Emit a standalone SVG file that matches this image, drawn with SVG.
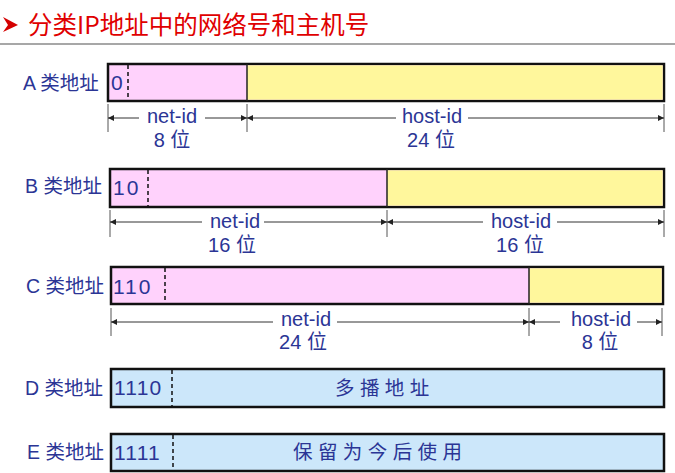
<svg xmlns="http://www.w3.org/2000/svg" width="675" height="473" viewBox="0 0 675 473">
<defs>
<style>
.t{font-family:"Liberation Sans","Noto Sans CJK SC",sans-serif;fill:#2B3595;font-size:19.5px}
.d{font-family:"Liberation Sans","Noto Sans CJK SC",sans-serif;fill:#2B3595;font-size:20px;text-anchor:middle}
.bits{font-family:"Liberation Sans",sans-serif;fill:#2B3595;font-size:21px;letter-spacing:2px}
.box{stroke:#111;stroke-width:2.5}
.div{stroke:#222;stroke-width:1.5}
.dash{stroke:#111;stroke-width:1.5;stroke-dasharray:4 3}
.tick{stroke:#555;stroke-width:1}
.dim{stroke:#333;stroke-width:1;fill:none;marker-end:url(#ah)}
.pink{fill:#FFD2FC}
.yel{fill:#FFF79C}
.blue{fill:#CCE7FA}
</style>
<marker id="ah" viewBox="0 0 6 6" refX="6" refY="3" markerWidth="6" markerHeight="6" markerUnits="userSpaceOnUse" orient="auto">
<path d="M0,0 L6,3 L0,6 z" fill="#222"/>
</marker>
</defs>
<rect width="675" height="473" fill="#fff"/>
<g id="title">
<polygon points="3,17 18,25 3,32 8,25" fill="#D40000"/>
<text x="28" y="34" style="font-family:'Noto Sans CJK SC','Noto Sans',sans-serif;font-size:24.5px;fill:#E00000">分类IP地址中的网络号和主机号</text>
<line x1="0" y1="44" x2="675" y2="44" stroke="#8a8a8a" stroke-width="1.5"/>
</g>
<g id="classA">
<text class="t" x="23" y="90">A 类地址</text>
<rect class="box pink" x="108" y="64" width="556" height="37"/>
<rect class="yel" x="247" y="65.3" width="415.7" height="34.4"/>
<line class="div" x1="247" y1="64" x2="247" y2="101"/>
<line class="dash" x1="128" y1="65" x2="128" y2="100"/>
<text class="bits" x="111" y="90">0</text>
</g>
<g id="classB">
<text class="t" x="25" y="193">B 类地址</text>
<rect class="box pink" x="110" y="169" width="554" height="38"/>
<rect class="yel" x="387" y="170.3" width="275.7" height="35.4"/>
<line class="div" x1="387" y1="169" x2="387" y2="207"/>
<line class="dash" x1="148" y1="170" x2="148" y2="206"/>
<text class="bits" x="113" y="195">10</text>
</g>
<g id="classC">
<text class="t" x="26" y="293">C 类地址</text>
<rect class="box pink" x="111" y="267" width="552" height="37"/>
<rect class="yel" x="529" y="268.3" width="132.7" height="34.4"/>
<line class="div" x1="529" y1="267" x2="529" y2="304"/>
<line class="dash" x1="165" y1="268" x2="165" y2="303"/>
<text class="bits" x="113" y="294">110</text>
</g>
<g id="classD">
<text class="t" x="25" y="395">D 类地址</text>
<rect class="box blue" x="111" y="369" width="553" height="38"/>
<line class="dash" x1="172" y1="370" x2="172" y2="406"/>
<text class="bits" x="114" y="395" style="letter-spacing:1.2px">1110</text>
<text class="t" x="335" y="395">多 播 地 址</text>
</g>
<g id="classE">
<text class="t" x="27" y="459">E 类地址</text>
<rect class="box blue" x="111" y="434" width="553" height="37"/>
<line class="dash" x1="173" y1="435" x2="173" y2="470"/>
<text class="bits" x="114" y="460" style="letter-spacing:1.2px">1111</text>
<text class="t" x="293" y="459">保 留 为 今 后 使 用</text>
</g>
<g id="connectors">
<line class="tick" x1="108" y1="104" x2="108" y2="132"/>
<line class="tick" x1="247" y1="104" x2="247" y2="132"/>
<line class="tick" x1="664" y1="104" x2="664" y2="132"/>
<path class="dim" d="M139,118 H108"/>
<path class="dim" d="M205,118 H247"/>
<path class="dim" d="M396,118 H247"/>
<path class="dim" d="M468,118 H664"/>
<line class="tick" x1="110" y1="210" x2="110" y2="237"/>
<line class="tick" x1="387" y1="210" x2="387" y2="237"/>
<line class="tick" x1="664" y1="210" x2="664" y2="237"/>
<path class="dim" d="M202,222 H110"/>
<path class="dim" d="M264,222 H387"/>
<path class="dim" d="M483,222 H387"/>
<path class="dim" d="M557,222 H664"/>
<line class="tick" x1="111" y1="308" x2="111" y2="336"/>
<line class="tick" x1="529" y1="308" x2="529" y2="336"/>
<line class="tick" x1="662" y1="308" x2="662" y2="336"/>
<path class="dim" d="M273,322 H111"/>
<path class="dim" d="M337,322 H529"/>
<path class="dim" d="M560,322 H529"/>
<path class="dim" d="M637,322 H662"/>
</g>
<g id="labels">
<text class="d" x="172" y="123">net-id</text>
<text class="d" x="172" y="147">8 位</text>
<text class="d" x="432" y="123">host-id</text>
<text class="d" x="431" y="147">24 位</text>
<text class="d" x="235" y="228">net-id</text>
<text class="d" x="232" y="252">16 位</text>
<text class="d" x="521" y="228">host-id</text>
<text class="d" x="520" y="252">16 位</text>
<text class="d" x="306" y="326">net-id</text>
<text class="d" x="303" y="349">24 位</text>
<text class="d" x="601" y="326">host-id</text>
<text class="d" x="600" y="349">8 位</text>
</g>
</svg>
